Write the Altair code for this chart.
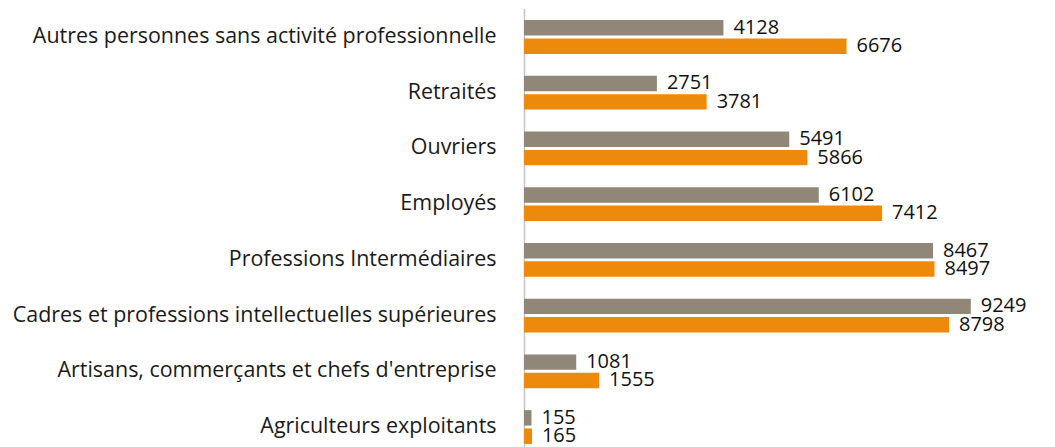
import altair as alt
import pandas as pd

categories = [
    "Autres personnes sans activité professionnelle",
    "Retraités",
    "Ouvriers",
    "Employés",
    "Professions Intermédiaires",
    "Cadres et professions intellectuelles supérieures",
    "Artisans, commerçants et chefs d'entreprise",
    "Agriculteurs exploitants",
]
series_names = ["Série 1", "Série 2"]
values_1 = [4128, 2751, 5491, 6102, 8467, 9249, 1081, 155]
values_2 = [6676, 3781, 5866, 7412, 8497, 8798, 1555, 165]
colors = ["#918779", "#EE8A0B"]

rows = []
for c, v1, v2 in zip(categories, values_1, values_2):
    rows.append({"cat": c, "serie": series_names[0], "val": v1})
    rows.append({"cat": c, "serie": series_names[1], "val": v2})
df = pd.DataFrame(rows)

FONT = "Open Sans"

y_enc = alt.Y(
    "cat:N",
    sort=categories,
    scale=alt.Scale(paddingInner=0.393, paddingOuter=0.209),
    axis=alt.Axis(
        title=None,
        ticks=False,
        domainColor="#c4c4c4",
        domainWidth=1.5,
        labelFont=FONT,
        labelFontSize=21.5,
        labelColor="#1a1a1a",
        labelPadding=28,
        labelLimit=800,
    ),
)
yoff = alt.YOffset("serie:N", sort=series_names, scale=alt.Scale(paddingInner=0.16))
x_enc = alt.X("val:Q", scale=alt.Scale(domain=[0, 10826], nice=False), axis=None)

bars = alt.Chart(df).mark_bar().encode(
    x=x_enc,
    y=y_enc,
    yOffset=yoff,
    color=alt.Color("serie:N", scale=alt.Scale(domain=series_names, range=colors), legend=None),
)

labels = alt.Chart(df).mark_text(
    align="left", baseline="middle", dx=10, font=FONT, fontSize=20, color="#111111"
).encode(
    x=x_enc,
    y=y_enc,
    yOffset=yoff,
    text=alt.Text("val:Q", format="d"),
)

chart = (
    alt.layer(bars, labels)
    .properties(
        width=524,
        height=448,
        padding={"top": 0, "left": 3, "right": 0, "bottom": -9},
    )
    .configure_view(stroke=None)
    .configure_axis(grid=False)
)

chart.save("out.html", embed_options={"renderer": "svg", "actions": False})
